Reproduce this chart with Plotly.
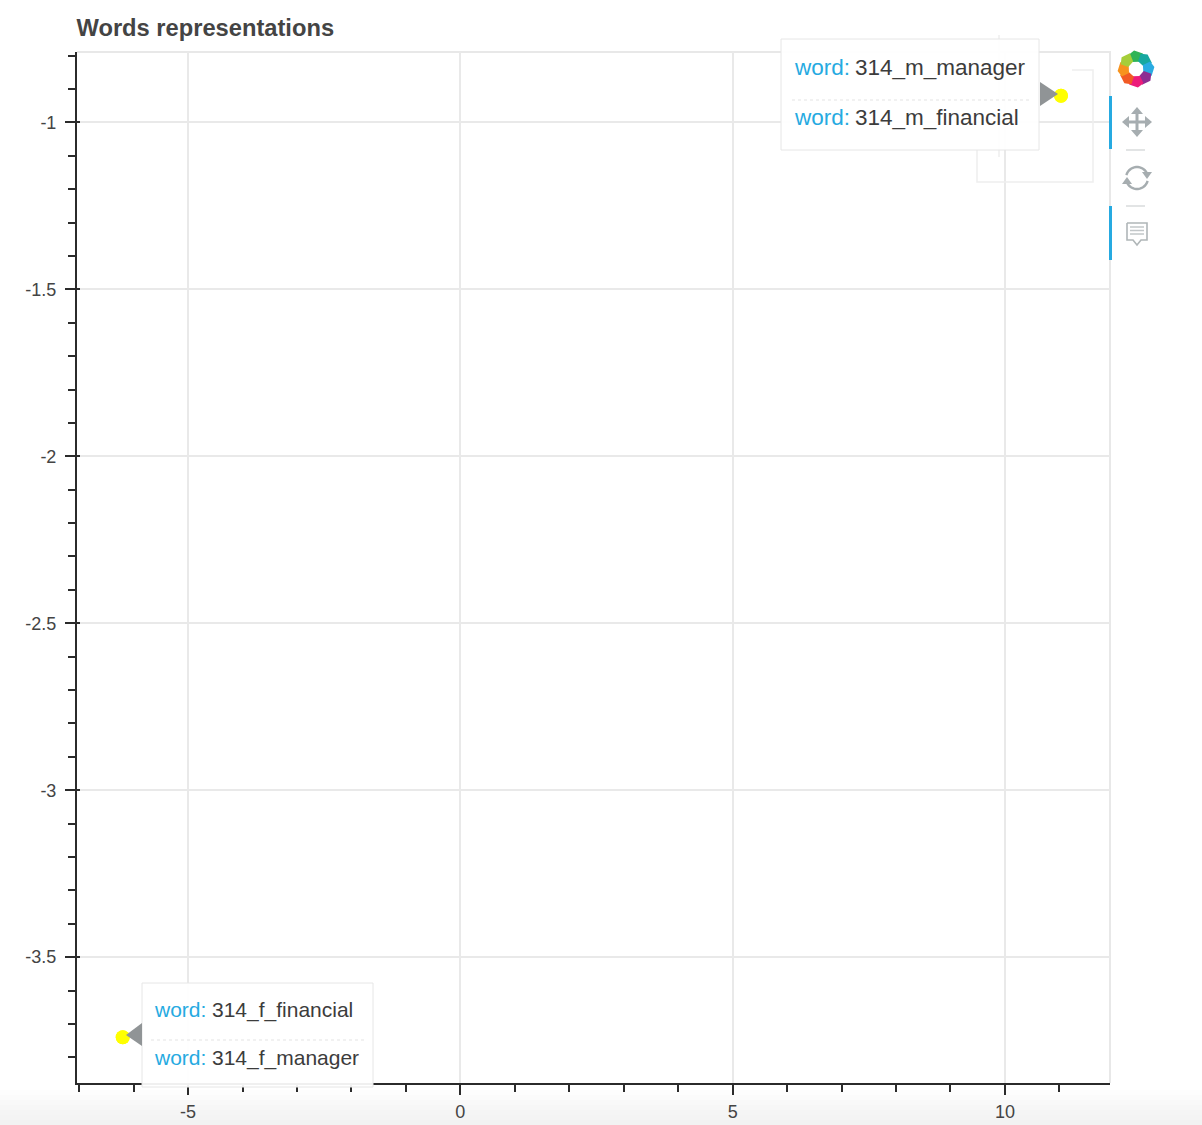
import math
import plotly.graph_objects as go

# ---- data -------------------------------------------------------------
words = ["314_m_manager", "314_m_financial", "314_f_financial", "314_f_manager"]
word_x = [11.03, 11.03, -6.2, -6.2]
word_y = [-0.92, -0.92, -3.74, -3.74]
x_ticks = [-5, 0, 5, 10]
y_ticks = [-1, -1.5, -2, -2.5, -3, -3.5]
x_range = [-7.04, 11.93]
y_range = [-3.877, -0.789]
title = "Words representations"

# ---- frame ------------------------------------------------------------
W, H = 1202, 1125
L, R, T, B = 77, 1110, 52, 1083
GRID = "#e9e9e9"
AXIS = "#2b2b2b"
BLUE = "#26aae1"
ICON = "#a6adb0"
TEXT = "#3c3c3c"


def px(x):
    return (x - L) / (R - L)


def py(y):
    return (B - y) / (B - T)


def path(points, close=True):
    s = "M" + " L".join(f"{px(a):.5f},{py(b):.5f}" for a, b in points)
    return s + (" Z" if close else "")


shapes = []


def poly(points, fill, layer="above"):
    shapes.append(dict(type="path", xref="paper", yref="paper", path=path(points),
                       fillcolor=fill, line=dict(width=0), layer=layer))


def line(points, color, width=1, dash="solid", layer="above"):
    shapes.append(dict(type="path", xref="paper", yref="paper", path=path(points, False),
                       line=dict(color=color, width=width, dash=dash), layer=layer))


def rect(x0, y0, x1, y1, fill, border=None, layer="above"):
    shapes.append(dict(type="rect", xref="paper", yref="paper",
                       x0=px(x0), x1=px(x1), y0=py(y0), y1=py(y1), fillcolor=fill,
                       line=dict(color=border or fill, width=1 if border else 0), layer=layer))


# bottom fade of the page
for i in range(8):
    y0 = 1085 + i * 5
    v = 255 - round(i * 1.9)
    rect(0, y0, W, y0 + 5, f"rgb({v},{v},{v})", layer="below")

# plot outline
line([(L, T), (R, T), (R, B)], "#e8e8e8", 2, layer="below")

# ghost lines around the upper tooltip
GHOST = "#eeeeee"
line([(1072, 70), (1093, 70), (1093, 182), (977, 182), (977, 150)], GHOST, 1.5)
line([(999, 35), (999, 157)], GHOST, 1.5)

annotations = []


def label(x, y, text, color, size):
    annotations.append(dict(xref="paper", yref="paper", x=px(x), y=py(y), text=text,
                            xanchor="left", yanchor="middle", showarrow=False,
                            font=dict(family="Liberation Sans", size=size, color=color)))


def tooltip(x0, y0, x1, y1, sep, sx0, sx1, arrow, rows, wx, vx, size):
    rect(x0, y0, x1, y1, "rgba(255,255,255,0.93)", "#e6e6e6")
    line([(sx0, sep), (sx1, sep)], "#e3e3e3", 1, "dot")
    poly(arrow, "#909496")
    for (ry, value) in rows:
        label(wx, ry, "word:", BLUE, size)
        label(vx, ry, value, TEXT, size)


tooltip(781, 39, 1039, 150, 100, 792, 1030, [(1040, 82), (1040, 106), (1058, 94)],
        [(67.5, words[0]), (117.5, words[1])], 792, 853, 22.5)
tooltip(142, 983, 373, 1087, 1040, 151, 365, [(142, 1023), (142, 1046), (126, 1035)],
        [(1009.5, words[2]), (1057.5, words[3])], 152, 209.5, 21)

# toolbar
rect(1109, 96, 1112, 149, BLUE)
rect(1109, 206, 1112, 260, BLUE)
line([(1126, 150), (1145, 150)], "#cfd2d3", 1.2)
line([(1126, 206), (1145, 206)], "#cfd2d3", 1.2)

# logo
petals = ["#2fb457", "#17a8a0", "#29abe2", "#8e2d92", "#ec1c7a", "#f15a24", "#f7931e", "#a6ce39"]
cx, cy = 1136, 69
for i, color in enumerate(petals):
    a = math.radians(i * 45 - 90)
    pts = []
    for r, d in [(8, -30), (16, -28), (18.5, -6), (17, 24), (8, 24)]:
        t = a + math.radians(d)
        pts.append((cx + r * math.cos(t), cy + r * math.sin(t)))
    poly(pts, color)

# move icon
mx, my = 1137, 122
line([(mx - 11, my), (mx + 11, my)], ICON, 3)
line([(mx, my - 11), (mx, my + 11)], ICON, 3)
for dx, dy in [(1, 0), (-1, 0), (0, 1), (0, -1)]:
    tip = (mx + 15 * dx, my + 15 * dy)
    a = (mx + 8 * dx + 6 * dy, my + 8 * dy + 6 * dx)
    b = (mx + 8 * dx - 6 * dy, my + 8 * dy - 6 * dx)
    poly([tip, a, b], ICON)

# reset icon
rx, ry = 1137, 178
for start in (195, 15):
    arc = []
    for k in range(15):
        t = math.radians(start + k * 10)
        arc.append((rx + 11 * math.cos(t), ry + 11 * math.sin(t)))
    line(arc, ICON, 2.4)
poly([(1142, 172), (1152, 172), (1147, 179)], ICON)
poly([(1122, 184), (1132, 184), (1127, 177)], ICON)

# hover icon
hx, hy = 1137, 233
line([(hx - 10, hy - 10), (hx + 10, hy - 10), (hx + 10, hy + 7), (hx + 4, hy + 7), (hx, hy + 12),
      (hx - 4, hy + 7), (hx - 10, hy + 7), (hx - 10, hy - 10)], "#b0b6b8", 1.6)
for d in (-6, -2.5, 1):
    line([(hx - 7, hy + d), (hx + 7, hy + d)], "#c2c7c9", 1.5)

fig = go.Figure()
fig.add_trace(go.Scatter(x=word_x, y=word_y, mode="markers", text=words,
                         hovertemplate="word: %{text}<extra></extra>",
                         marker=dict(color="#ffff00", size=14, line=dict(width=0)),
                         showlegend=False))
fig.add_trace(go.Scatter(x=word_x, y=word_y, mode="markers", xaxis="x2", yaxis="y2",
                         marker=dict(opacity=0), hoverinfo="skip", showlegend=False))

tick_font = dict(family="Liberation Sans", size=18, color="#444444")
fig.update_layout(
    width=W, height=H, autosize=False,
    margin=dict(l=L, r=W - R, t=T, b=H - B, pad=0, autoexpand=False),
    paper_bgcolor="white", plot_bgcolor="white",
    title=dict(text=f"<b>{title}</b>", x=76.5 / W, xanchor="left",
               y=1 - 28 / H, yanchor="middle", automargin=False,
               font=dict(family="Liberation Sans", size=23.7, color="#444444")),
    xaxis=dict(range=x_range, tickmode="array", tickvals=x_ticks, automargin=False,
               ticktext=[str(v) for v in x_ticks], showgrid=True, gridcolor=GRID, gridwidth=2,
               zeroline=False, showline=True, linecolor=AXIS, linewidth=2,
               ticks="outside", ticklen=10, tickwidth=2, tickcolor=AXIS, tickfont=tick_font,
               ticklabelstandoff=1,
               minor=dict(dtick=1, tick0=0, ticks="outside", ticklen=7, tickwidth=2,
                          tickcolor=AXIS, showgrid=False)),
    yaxis=dict(range=y_range, tickmode="array", tickvals=y_ticks, automargin=False,
               ticktext=[str(v) for v in y_ticks], showgrid=True, gridcolor=GRID, gridwidth=2,
               zeroline=False, showline=True, linecolor=AXIS, linewidth=2,
               ticks="outside", ticklen=10, tickwidth=2, tickcolor=AXIS, tickfont=tick_font,
               ticklabelstandoff=5,
               minor=dict(dtick=0.1, tick0=-1, ticks="outside", ticklen=7, tickwidth=2,
                          tickcolor=AXIS, showgrid=False)),
    xaxis2=dict(range=x_range, overlaying="x", anchor="y2", side="bottom", showgrid=False,
                zeroline=False, showticklabels=False, showline=False),
    yaxis2=dict(range=y_range, overlaying="y", anchor="x2", side="left", showgrid=False,
                zeroline=False, showticklabels=False, showline=False, ticks="inside",
                tickmode="array", tickvals=y_ticks, ticklen=3, tickwidth=2, tickcolor=AXIS),
    shapes=shapes, annotations=annotations,
)

fig.write_html("out.html", config={"displayModeBar": False},
               post_script="document.body.style.margin='0';")
